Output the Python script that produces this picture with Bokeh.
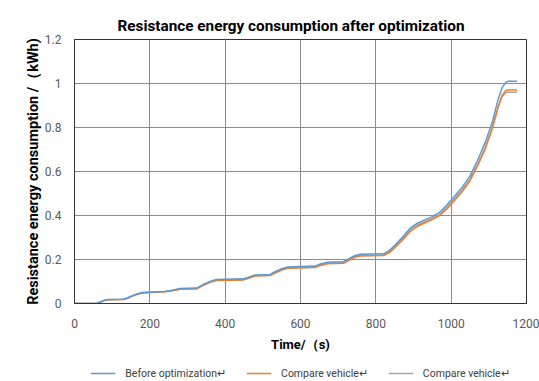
from bokeh.plotting import figure
from bokeh.models import Legend, LegendItem, FixedTicker
from bokeh.layouts import column
from bokeh.embed import file_html
from bokeh.resources import INLINE

title_text = "Resistance energy consumption after optimization"
x_label = "Time/（s)"
y_label = "Resistance energy consumption /（kWh)"
series_names = ["Before optimization\u21b5", "Compare vehicle\u21b5", "Compare vehicle\u21b5"]

time_s = [0, 50, 60, 70, 80, 90, 130, 140, 160, 180, 240, 260, 280, 325, 340, 360, 376,
          447, 460, 480, 519, 530, 550, 566, 638, 650, 672, 714, 730, 745, 758, 821, 835,
          850, 870, 890, 910, 930, 950, 970, 990, 1010, 1030, 1050, 1070, 1090, 1110,
          1125, 1135, 1145, 1150, 1175]
before_opt = [0, 0, 0.001, 0.008, 0.015, 0.018, 0.019, 0.025, 0.04, 0.05, 0.055, 0.06, 0.068,
              0.07, 0.085, 0.1, 0.109, 0.112, 0.118, 0.13, 0.132, 0.142, 0.158, 0.166, 0.17,
              0.178, 0.188, 0.19, 0.205, 0.218, 0.224, 0.226, 0.24, 0.265, 0.3, 0.34, 0.365,
              0.38, 0.395, 0.415, 0.45, 0.49, 0.53, 0.58, 0.65, 0.73, 0.83, 0.93, 0.98, 1.005,
              1.01, 1.01]
compare_a = [0, 0, 0.001, 0.007, 0.014, 0.017, 0.018, 0.023, 0.038, 0.048, 0.053, 0.058, 0.065,
             0.067, 0.081, 0.096, 0.104, 0.107, 0.113, 0.125, 0.127, 0.136, 0.152, 0.16, 0.164,
             0.171, 0.181, 0.183, 0.197, 0.21, 0.216, 0.218, 0.23, 0.253, 0.286, 0.325, 0.35,
             0.367, 0.382, 0.4, 0.432, 0.47, 0.51, 0.558, 0.625, 0.7, 0.8, 0.895, 0.945, 0.968,
             0.97, 0.97]
compare_b = [0, 0, 0.001, 0.008, 0.015, 0.018, 0.019, 0.024, 0.039, 0.049, 0.054, 0.059, 0.066,
             0.068, 0.083, 0.098, 0.106, 0.109, 0.115, 0.127, 0.129, 0.139, 0.155, 0.162, 0.166,
             0.174, 0.184, 0.186, 0.2, 0.213, 0.219, 0.221, 0.234, 0.258, 0.292, 0.332, 0.357,
             0.372, 0.387, 0.406, 0.44, 0.478, 0.518, 0.565, 0.632, 0.708, 0.805, 0.895, 0.94,
             0.958, 0.96, 0.96]
x_ticks = [0, 200, 400, 600, 800, 1000, 1200]
y_ticks = [0, 0.2, 0.4, 0.6, 0.8, 1.0, 1.2]
y_tick_labels = ["0", "0.2", "0.4", "0.6", "0.8", "1", "1.2"]
colors = ["#5B9BD5", "#ED7D31", "#A5A5A5"]

FONT = "Roboto"

p = figure(width=539, height=355, output_backend="svg", toolbar_location=None,
           x_range=(0, 1200), y_range=(0, 1.2),
           min_border_left=54, min_border_right=13, min_border_top=39, min_border_bottom=52)

p.title.text = title_text
p.title.align = "left"
p.title.text_font = FONT
p.title.text_font_size = "15.3px"
p.title.text_font_style = "bold"
p.title.text_color = "#000000"
p.title.offset = 43

p.xaxis.ticker = FixedTicker(ticks=x_ticks)
p.yaxis.ticker = FixedTicker(ticks=y_ticks)
p.yaxis.major_label_overrides = {t: l for t, l in zip(y_ticks, y_tick_labels)}
for ax in (p.xaxis, p.yaxis):
    ax.major_tick_line_color = None
    ax.minor_tick_line_color = None
    ax.axis_line_color = "#333333"
    ax.major_label_text_font = FONT
    ax.major_label_text_font_size = "12px"
    ax.major_label_text_color = "#595959"
p.xaxis.major_label_standoff = 9
p.yaxis.major_label_standoff = 7

p.xaxis.axis_label = x_label
p.xaxis.axis_label_text_font = FONT
p.xaxis.axis_label_text_font_size = "13px"
p.xaxis.axis_label_text_font_style = "bold"
p.xaxis.axis_label_text_color = "#000000"
p.xaxis.axis_label_standoff = 6

p.yaxis.axis_label = y_label
p.yaxis.axis_label_text_font = FONT
p.yaxis.axis_label_text_font_size = "14.5px"
p.yaxis.axis_label_text_font_style = "bold"
p.yaxis.axis_label_text_color = "#000000"
p.yaxis.axis_label_standoff = 0

p.grid.grid_line_color = "#8C8C8C"
p.grid.grid_line_width = 1
p.outline_line_color = "#333333"
p.outline_line_width = 1

order = [2, 1, 0]
data = [before_opt, compare_a, compare_b]
for i in order:
    p.line(time_s, data[i], line_color=colors[i], line_width=1.5)

# legend strip below the chart (proxy renderers hold no visible data)
lg = figure(width=539, height=26, output_backend="svg", toolbar_location=None,
            x_axis_type=None, y_axis_type=None, x_range=(0, 1), y_range=(0, 1),
            min_border_left=74, min_border_right=0, min_border_top=10, min_border_bottom=0)
lg.outline_line_color = None
lg.grid.grid_line_color = None
nan = float("nan")
items = []
for i in range(3):
    r = lg.line([nan], [nan], line_color=colors[i], line_width=1.5)
    items.append(LegendItem(label=series_names[i], renderers=[r]))
legend = Legend(items=items, orientation="horizontal", location="center",
                label_text_font=FONT, label_text_font_size="10.5px", label_text_color="#404040",
                glyph_width=25, label_standoff=10, spacing=20, padding=0, margin=0,
                border_line_color=None, background_fill_alpha=0)
lg.add_layout(legend, "center")

open("out.html", "w").write(file_html(column(p, lg, spacing=0), INLINE))
